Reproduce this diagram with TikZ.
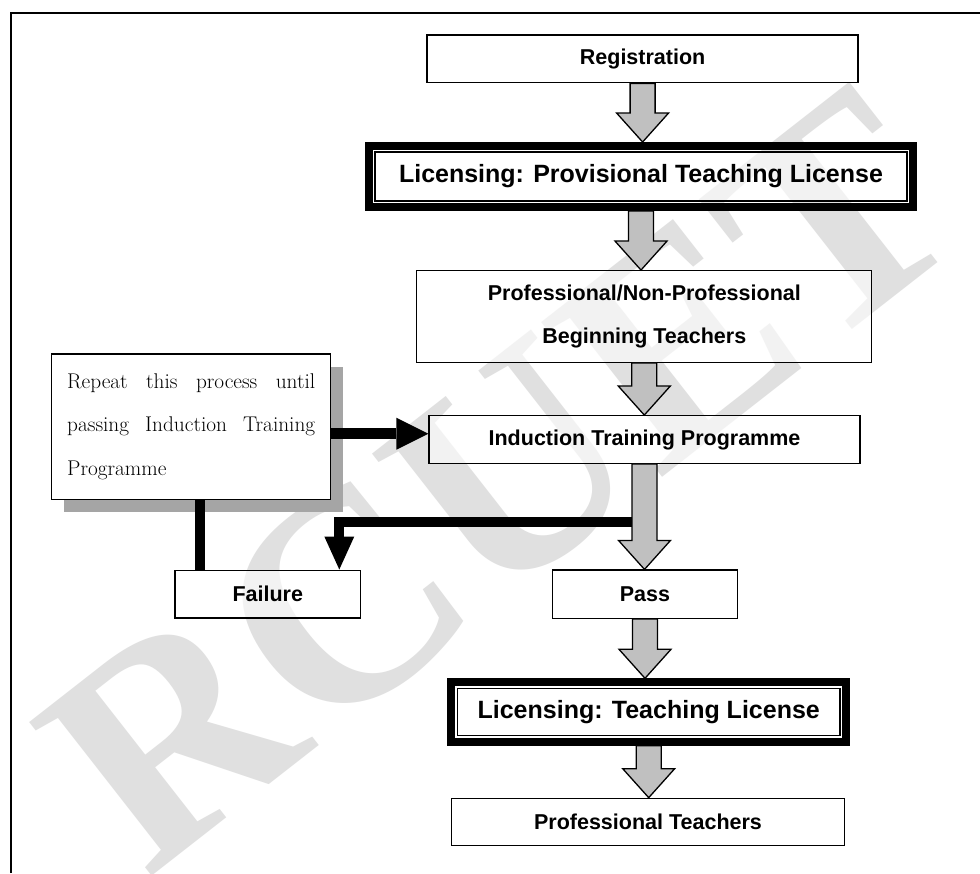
\documentclass[tikz,border=0pt]{standalone}
\usepackage{fontspec}
\usetikzlibrary{arrows.meta,shadows,calc}
\newfontfamily\flowfont{Liberation Sans}
\newfontfamily\markfont{Liberation Serif}
\definecolor{arrowfill}{RGB}{192,192,192}
\definecolor{shadowgray}{RGB}{165,165,165}
\definecolor{markgray}{RGB}{224,224,224}

% broad grey block arrow from the bottom of #1 to the top of #2
\newcommand\flowarrow[2]{%
  \path[flowarr] let \p1=(#1.south), \p2=(#2.north) in
    (\x1-12.5pt,\y1) -- (\x1-12.5pt,\y2+29pt) -- (\x1-26pt,\y2+29pt) --
    (\x1,\y2) -- (\x1+26pt,\y2+29pt) -- (\x1+12.5pt,\y2+29pt) --
    (\x1+12.5pt,\y1) -- cycle;}

\begin{document}
\begin{tikzpicture}[x=1pt,y=-1pt,
  flowbox/.style={draw, line width=1.3pt, fill=white, fill opacity=0.6,
    text opacity=1, inner sep=0pt, align=center,
    font=\flowfont\bfseries\fontsize{21.5}{43}\selectfont},
  licbox/.style={flowbox, outer sep=10pt,
    font=\flowfont\bfseries\fontsize{25}{30}\selectfont},
  licframe/.style={line width=8pt},
  notebox/.style={draw, line width=1.3pt, fill=white, inner sep=0pt,
    text width=248pt, align=justify,
    font=\fontsize{21.3}{43.5}\selectfont,
    drop shadow={shadow xshift=12pt, shadow yshift=-13pt,
      fill=shadowgray, opacity=1}},
  flowarr/.style={draw, line width=1.3pt, fill=arrowfill, line join=miter},
  pushline/.style={line width=11pt,
    -{Triangle[length=32pt,width=32pt,line width=0pt]}},
  failline/.style={line width=10pt,
    -{Triangle[length=33pt,width=30pt,line width=0pt]}},
  loopline/.style={line width=10.5pt},
  watermark/.style={text=markgray, inner sep=0pt,
    font=\markfont\bfseries\fontsize{300}{300}\selectfont}]

\useasboundingbox (0,0) rectangle (980,873);
\fill[white] (0,0) rectangle (980,873);

% faint watermark behind the chart
\node[watermark, rotate=38] (mark) at (500,480) {RCUET};

% page frame
\draw[line width=2pt] (11,873) -- (11,12.5) -- (980,12.5);

% main column
\node[flowbox, minimum width=431pt, minimum height=47.7pt] (reg) at (642.6,58.9) {Registration};
\node[licbox, minimum width=532pt, minimum height=49pt] (lic1) at (641,176.5)
  {Licensing: Provisional Teaching License};
\node[flowbox, minimum width=455pt, minimum height=91.6pt] (pnp) at (644.3,316.5)
  {Professional/Non-Professional\\Beginning Teachers};
\node[flowbox, minimum width=431pt, minimum height=47.6pt] (ind) at (644.5,439.5)
  {Induction Training Programme};
\node[flowbox, minimum width=185.4pt, minimum height=48.3pt] (pass) at (645,594.2) {Pass};
\node[licbox, minimum width=382.7pt, minimum height=47.4pt] (lic2) at (648.7,712)
  {Licensing: Teaching License};
\node[flowbox, minimum width=392.6pt, minimum height=47.4pt] (pt) at (648,822)
  {Professional Teachers};

% side branch
\node[flowbox, minimum width=185.7pt, minimum height=47.7pt] (fail) at (267.8,594) {Failure};
\node[notebox, minimum width=279pt, minimum height=145.3pt] (rep) at (191.2,426.7)
  {Repeat this process until\linebreak passing Induction Training\linebreak Programme};

% heavy outer borders of the licence boxes
\draw[licframe] ([shift={(4,4)}]lic1.north west) rectangle ([shift={(-4,-4)}]lic1.south east);
\draw[licframe] ([shift={(4,4)}]lic2.north west) rectangle ([shift={(-4,-4)}]lic2.south east);

% black connectors
\coordinate (split) at ([yshift=-58.3pt]ind.south);
\coordinate (indin) at ([yshift=5.8pt]ind.west);
\coordinate (failin) at ([xshift=71.5pt]fail.north);
\coordinate (failtop) at ([xshift=-67.6pt]fail.north);
\draw[pushline] (rep.east |- indin) -- (indin);
\draw[failline] (split) -| (failin);
\draw[loopline] (rep.south -| failtop) -- (failtop);

% grey flow arrows
\flowarrow{reg}{lic1}
\flowarrow{lic1}{pnp}
\flowarrow{pnp}{ind}
\flowarrow{ind}{pass}
\flowarrow{pass}{lic2}
\flowarrow{lic2}{pt}
\end{tikzpicture}
\end{document}
